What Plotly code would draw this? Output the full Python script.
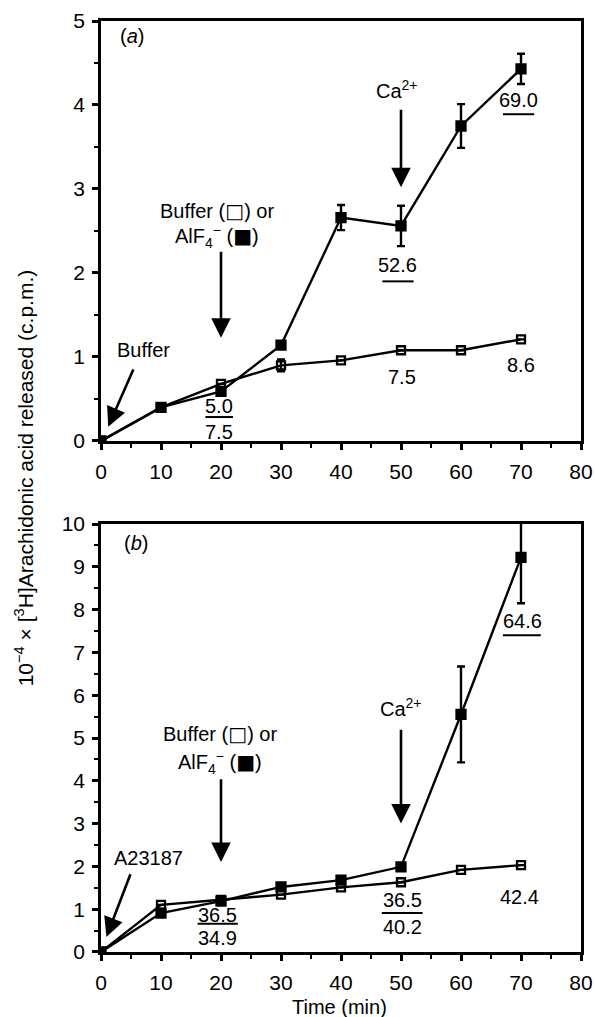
import plotly.graph_objects as go
from plotly.subplots import make_subplots

time = [0, 10, 20, 30, 40, 50, 60, 70]

# Panel (a)
a_buffer = [0, 0.40, 0.68, 0.90, 0.96, 1.08, 1.08, 1.21]
a_buffer_err = [0, 0, 0, 0.07, 0, 0, 0, 0]
a_alf4 = [0, 0.40, 0.59, 1.14, 2.66, 2.56, 3.75, 4.43]
a_alf4_err = [0, 0, 0, 0, 0.15, 0.24, 0.26, 0.18]

# Panel (b)
b_buffer = [0, 1.10, 1.22, 1.34, 1.51, 1.63, 1.92, 2.03]
b_buffer_err = [0, 0, 0, 0, 0, 0, 0, 0]
b_alf4 = [0, 0.91, 1.19, 1.52, 1.68, 1.99, 5.55, 9.22]
b_alf4_err = [0, 0, 0, 0, 0, 0, 1.12, 1.07]

x_ticks = [0, 10, 20, 30, 40, 50, 60, 70, 80]
ya_ticks = [0, 1, 2, 3, 4, 5]
yb_ticks = [0, 1, 2, 3, 4, 5, 6, 7, 8, 9, 10]

FONT = "Liberation Sans, Arial, sans-serif"
TICK_SIZE = 21
ANN_SIZE = 20
OPEN_BOX = '<span style="font-family:DejaVu Sans">□</span>'
FILL_BOX = '<span style="font-family:DejaVu Sans">■</span>'

fig = make_subplots(rows=2, cols=1, vertical_spacing=0.089)

def add_series(row, yvals, err, filled):
    fig.add_trace(go.Scatter(
        x=time, y=yvals, mode="lines+markers",
        line=dict(color="black", width=2.4),
        marker=dict(symbol="square" if filled else "square-open", size=9 if filled else 8,
                    color="black", line=dict(color="black", width=2.3)),
        error_y=dict(type="data", array=err, visible=True, color="black",
                     thickness=2.4, width=4),
        showlegend=False, cliponaxis=True), row=row, col=1)

add_series(1, a_buffer, a_buffer_err, False)
add_series(1, a_alf4, a_alf4_err, True)
add_series(2, b_buffer, b_buffer_err, False)
add_series(2, b_alf4, b_alf4_err, True)

axis_common = dict(showline=True, linecolor="black", linewidth=2.6, mirror=True,
                   ticks="outside", ticklen=6, tickwidth=2.6, tickcolor="black",
                   showgrid=False, zeroline=False, automargin=False,
                   tickfont=dict(family=FONT, size=TICK_SIZE, color="black"))

minor_common = dict(ticks="outside", ticklen=4, tickwidth=2, tickcolor="black", showgrid=False)

for r in (1, 2):
    fig.update_xaxes(range=[0, 80], tickvals=x_ticks, row=r, col=1,
                     minor=dict(dtick=5, **minor_common), ticklabelstandoff=4,
                     **axis_common)
fig.update_yaxes(range=[0, 5], tickvals=ya_ticks, row=1, col=1,
                 minor=dict(dtick=0.5, **minor_common), ticklabelstandoff=3,
                 **axis_common)
fig.update_yaxes(range=[0, 10], tickvals=yb_ticks, row=2, col=1,
                 minor=dict(dtick=0.5, **minor_common), ticklabelstandoff=3,
                 **axis_common)

fig.update_layout(
    width=595, height=1017,
    margin=dict(l=101, r=14, t=21, b=65, autoexpand=False),
    paper_bgcolor="white", plot_bgcolor="white",
    font=dict(family=FONT, color="black"),
)
fig.layout.yaxis.domain = [0.5489, 1.0]
fig.layout.yaxis2.domain = [0.0, 0.4597]

def text(xr, yr, x, y, t, size=ANN_SIZE):
    fig.add_annotation(xref=xr, yref=yr, x=x, y=y, text=t, showarrow=False,
                       font=dict(family=FONT, size=size, color="black"))

def arrow(xr, yr, x0, y0, x1, y1):
    fig.add_annotation(xref=xr, yref=yr, axref=xr, ayref=yr, x=x1, y=y1, ax=x0, ay=y0,
                       text="", showarrow=True, arrowhead=2, arrowsize=1.5,
                       arrowwidth=2.6, arrowcolor="black")

def bar(xr, yr, x0, x1, y):
    fig.add_shape(type="line", xref=xr, yref=yr, x0=x0, x1=x1, y0=y, y1=y,
                  line=dict(color="black", width=2))

# Panel (a) annotations
text("x", "y", 5.2, 4.82, "(<i>a</i>)")
text("x", "y", 19.3, 2.74, f"Buffer ({OPEN_BOX}) or")
text("x", "y", 19.3, 2.43, f"AlF<sub>4</sub><sup>−</sup> ({FILL_BOX})")
arrow("x", "y", 20, 2.27, 20, 1.23)
text("x", "y", 7.0, 1.08, "Buffer")
arrow("x", "y", 5.5, 0.87, 1.2, 0.17)
text("x", "y", 19.7, 0.42, "5.0")
bar("x", "y", 17.4, 22.0, 0.285)
text("x", "y", 19.7, 0.11, "7.5")
text("x", "y", 49.3, 4.18, "Ca<sup>2+</sup>")
arrow("x", "y", 50, 3.96, 50, 3.02)
text("x", "y", 49.4, 2.09, "52.6")
bar("x", "y", 46.9, 52.1, 1.90)
text("x", "y", 69.5, 4.06, "69.0")
bar("x", "y", 67.0, 72.2, 3.89)
text("x", "y", 50.2, 0.76, "7.5")
text("x", "y", 70.0, 0.90, "8.6")

# Panel (b) annotations
text("x2", "y2", 5.9, 9.56, "(<i>b</i>)")
text("x2", "y2", 19.9, 5.1, f"Buffer ({OPEN_BOX}) or")
text("x2", "y2", 19.9, 4.42, f"AlF<sub>4</sub><sup>−</sup> ({FILL_BOX})")
arrow("x2", "y2", 20, 4.07, 20, 2.1)
text("x2", "y2", 7.9, 2.2, "A23187")
arrow("x2", "y2", 5.0, 1.85, 0.9, 0.35)
text("x2", "y2", 19.4, 0.86, "36.5")
bar("x2", "y2", 16.1, 22.8, 0.66)
text("x2", "y2", 19.4, 0.33, "34.9")
text("x2", "y2", 50.0, 5.72, "Ca<sup>2+</sup>")
arrow("x2", "y2", 50, 5.23, 50, 3.0)
text("x2", "y2", 50.2, 1.21, "36.5")
bar("x2", "y2", 46.8, 53.6, 0.91)
text("x2", "y2", 50.2, 0.58, "40.2")
text("x2", "y2", 69.8, 1.28, "42.4")
text("x2", "y2", 70.2, 7.73, "64.6")
bar("x2", "y2", 67.0, 73.3, 7.40)

# Axis titles
fig.add_annotation(xref="paper", yref="paper", x=-0.16, y=0.509, textangle=-90,
                   text="10<sup>−4</sup> × [<sup>3</sup>H]Arachidonic acid released (c.p.m.)",
                   showarrow=False, xanchor="center", yanchor="middle",
                   font=dict(family=FONT, size=21, color="black"))
fig.add_annotation(xref="paper", yref="paper", x=0.497, y=-0.059,
                   text="Time (min)", showarrow=False, yanchor="middle",
                   font=dict(family=FONT, size=ANN_SIZE, color="black"))

fig.write_html("out.html", config={"displayModeBar": False},
               post_script="document.body.style.margin='0';document.body.style.overflow='hidden';")
